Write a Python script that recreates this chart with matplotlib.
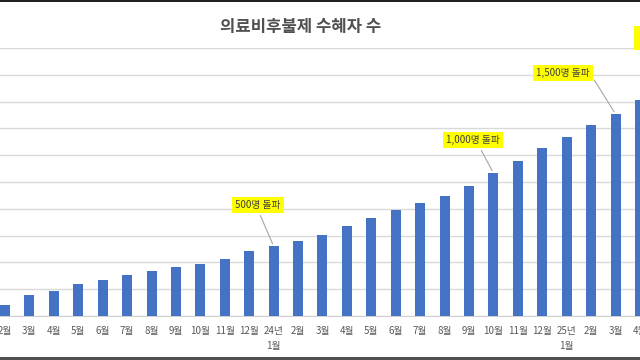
import matplotlib.pyplot as plt
from matplotlib.patches import Rectangle

plt.rcParams['font.family'] = ['Noto Sans CJK KR', 'DejaVu Sans']

# 23년 2월 ~ 25년 4월 (월별 누적 수혜자 수, 그림에서 읽은 추정치)
months = ["2월", "3월", "4월", "5월", "6월", "7월", "8월", "9월", "10월", "11월", "12월",
          "24년\n1월", "2월", "3월", "4월", "5월", "6월", "7월", "8월", "9월", "10월", "11월", "12월",
          "25년\n1월", "2월", "3월", "4월"]
counts = [80, 157, 189, 239, 271, 304, 334, 366, 390, 425, 483,
          520, 560, 607, 669, 734, 791, 841, 896, 970, 1067, 1157, 1254,
          1336, 1425, 1507, 1612]

# 돌파 표시 (막대 인덱스, 문구)
milestones = [(11, "500명 돌파"), (20, "1,000명 돌파"), (25, "1,500명 돌파"), (26, "1,600명 돌파")]
label_pos = [(258, 155, 'center', 0.3, (0.5, 0)),
             (473, 220, 'center', 0.3, (0.6, 0)),
             (563, 287, 'center', 0.3, (1, 0.5)),
             (641, 322, 'left', 0.75, (0.5, 0))]

fig = plt.figure(figsize=(6.4, 3.6), dpi=100)
ax = fig.add_axes([0, 44 / 360, 1, 268 / 360])

x = list(range(len(months)))
ax.bar(x, counts, width=0.41, color='#4472C4', zorder=3)

ax.set_xlim(-5 / 24.5, 635 / 24.5)
ax.set_ylim(0, 2000)
ax.set_yticks(range(0, 2001, 200))
ax.set_yticklabels([])
ax.grid(axis='y', color='#D9D9D9', linewidth=1, zorder=0)
ax.set_xticks(x)
ax.set_xticklabels(months, fontsize=7, color='#595959', linespacing=1.7)
ax.tick_params(axis='both', length=0)
ax.tick_params(axis='x', pad=7)
for s in ['top', 'left', 'right']:
    ax.spines[s].set_visible(False)
ax.spines['bottom'].set_color('#D0D0D0')

for (i, txt), (px, py, ha, pad, rel) in zip(milestones, label_pos):
    ax.annotate(txt, xy=(i, counts[i]), xytext=(px, py), textcoords='figure pixels',
                ha=ha, va='center', fontsize=7, color='#404040',
                bbox=dict(boxstyle=f'square,pad={pad}', fc='#FFFF00', ec='none'),
                arrowprops=dict(arrowstyle='-', color='#A6A6A6', lw=0.8, relpos=rel),
                annotation_clip=False, zorder=5)

fig.text(0.47, 1 - 27 / 360, "의료비후불제 수혜자 수", ha='center', va='center',
         fontsize=12, color='#505050', fontweight='bold')

# 캡처 테두리
fig.add_artist(Rectangle((0, 1 - 2 / 360), 1, 2 / 360, transform=fig.transFigure,
                         color='#202020', lw=0))
fig.add_artist(Rectangle((0, 0), 1, 3 / 360, transform=fig.transFigure,
                         color='#505050', lw=0))

fig.savefig("out.png", dpi=100)
